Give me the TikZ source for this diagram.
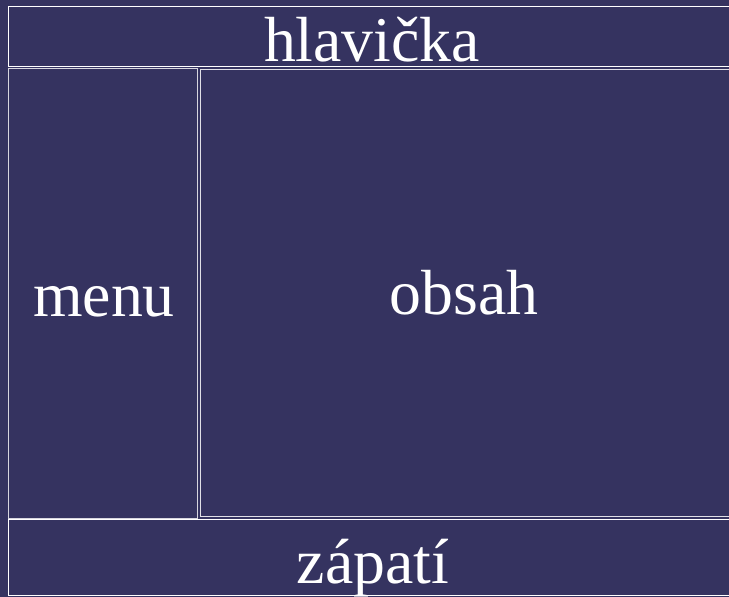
\documentclass[tikz,border=0pt]{standalone}
\usepackage{fontspec}
\setmainfont{Liberation Serif}
\definecolor{bg}{RGB}{53,51,96}
\begin{document}
\begin{tikzpicture}[x=1bp,y=-1bp,
  panel/.style={draw=white,line width=0.9bp},
  lbl/.style={text=white,font=\fontsize{64}{64}\selectfont,anchor=base,inner sep=0pt}]
\useasboundingbox (0,0) rectangle (729,597);
\clip (0,0) rectangle (729,597);
\fill[bg] (0,0) rectangle (729,597);
\draw[panel] (8,6.5) rectangle (733,66.5);
\draw[panel,draw=white!80!bg] (8,68) rectangle (197,518);
\draw[panel,draw=white!85!bg] (200,69.5) rectangle (732,516.5);
\draw[panel] (8,519.5) rectangle (733,595);
\node[lbl] (h) at (372,62) {hlavička};
\node[lbl] (m) at (104,316) {menu};
\node[lbl] (o) at (464,314) {obsah};
\node[lbl] (z) at (373,583) {zápatí};
\end{tikzpicture}
\end{document}
